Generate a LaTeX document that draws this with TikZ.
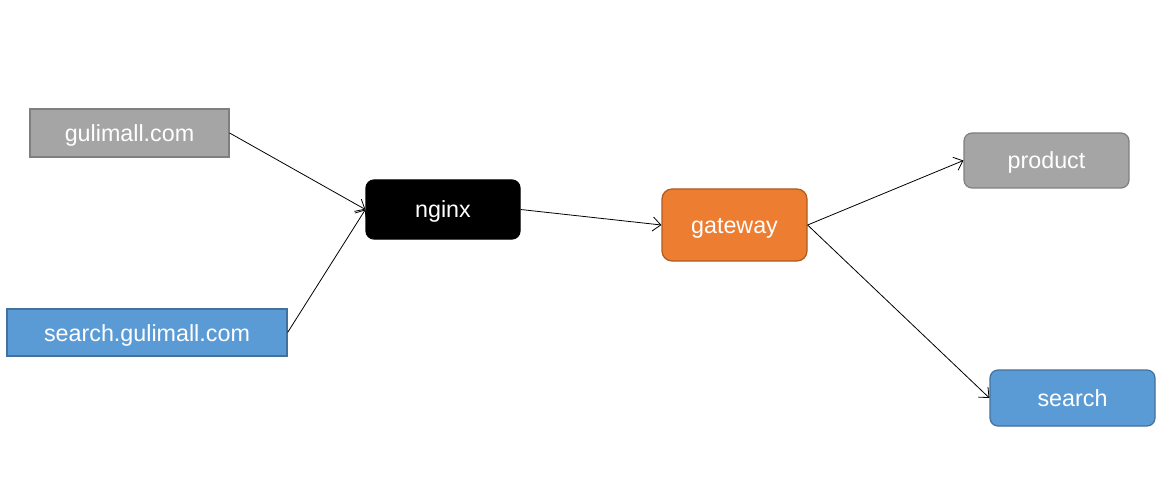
\documentclass[tikz,border=0pt]{standalone}
\usepackage{fontspec}
\setmainfont{Liberation Sans}
\usetikzlibrary{arrows.meta}
\definecolor{grayfill}{HTML}{A5A5A5}
\definecolor{graydraw}{HTML}{7F7F7F}
\definecolor{bluefill}{HTML}{5B9BD5}
\definecolor{bluedraw}{HTML}{41719C}
\definecolor{orangefill}{HTML}{ED7D31}
\definecolor{orangedraw}{HTML}{AE5A21}
\tikzset{
  box/.style={inner sep=0pt, text=white, font=\fontsize{23.3}{28}\selectfont, line width=1.2pt,
    text height=17pt, text depth=0pt},
  graybox/.style={box, fill=grayfill, draw=graydraw},
  bluebox/.style={box, fill=bluefill, draw=bluedraw},
  conn/.style={draw=black, line width=0.8pt, -{Straight Barb[length=8pt,width=14pt,line width=0.8pt]}},
}
\begin{document}
\begin{tikzpicture}[x=1pt,y=-1pt]
\useasboundingbox (0,0) rectangle (1176,500);
\node[graybox, minimum width=199pt, minimum height=48pt] (gm) at (129.5,133) {gulimall.com};
\node[bluebox, minimum width=280pt, minimum height=47pt] (sgm) at (147,332.5) {search.gulimall.com};
\node[box, fill=black, draw=black, rounded corners=8pt, minimum width=154pt, minimum height=59pt] (ng) at (443,209.5) {nginx};
\node[box, fill=orangefill, draw=orangedraw, rounded corners=10pt, minimum width=145pt, minimum height=72pt] (gw) at (734.5,225) {gateway};
\node[graybox, rounded corners=8pt, minimum width=165pt, minimum height=55pt] (pr) at (1046.5,160.5) {product};
\node[bluebox, rounded corners=8pt, minimum width=165pt, minimum height=56pt] (se) at (1072.5,398) {search};
\draw[conn] (gm.east) -- (ng.west);
\draw[conn] (sgm.east) -- (ng.west);
\draw[conn] (ng.east) -- (gw.west);
\draw[conn] (gw.east) -- (pr.west);
\draw[conn] (gw.east) -- (se.west);
\end{tikzpicture}
\end{document}
